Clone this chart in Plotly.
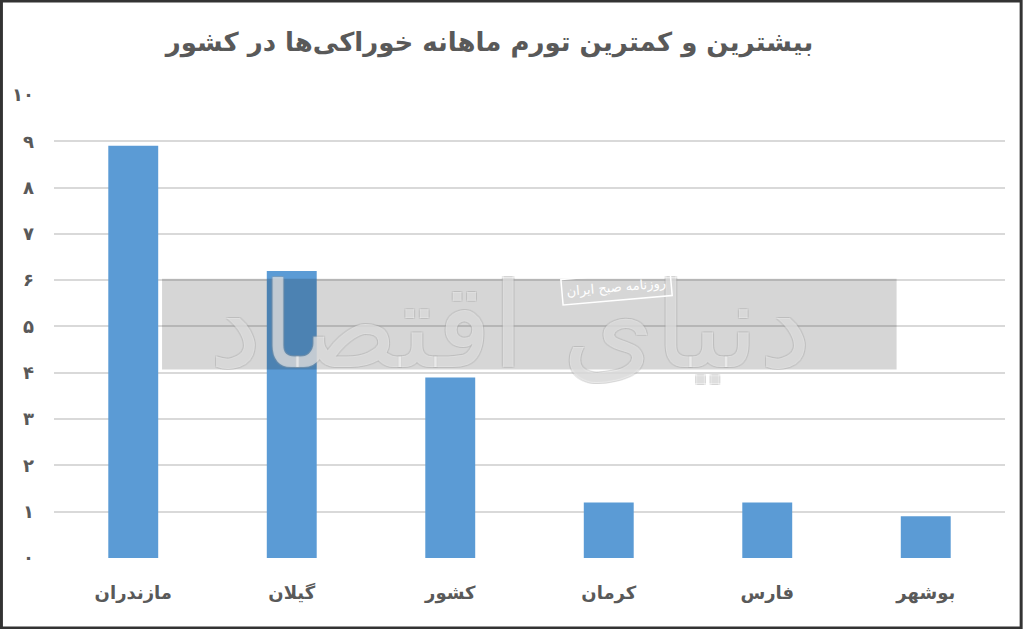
import plotly.graph_objects as go

title_text = "بیشترین و کمترین تورم ماهانه خوراکی‌ها در کشور"
categories = ["مازندران", "گیلان", "کشور", "کرمان", "فارس", "بوشهر"]
values = [8.9, 6.2, 3.9, 1.2, 1.2, 0.9]
tick_vals = [0, 1, 2, 3, 4, 5, 6, 7, 8, 9, 10]
tick_text = ["۰", "۱", "۲", "۳", "۴", "۵", "۶", "۷", "۸", "۹", "۱۰"]
watermark_main = "دنیای اقتصاد"
watermark_sub = "روزنامه صبح ایران"

FONT = "DejaVu Sans"
GRAY = "#595959"

fig = go.Figure()
fig.add_trace(go.Bar(
    x=categories, y=values,
    marker=dict(color="#5B9BD5", line=dict(width=0)),
    width=0.315,
    hoverinfo="x+y",
))

fig.update_layout(
    width=1024, height=629,
    paper_bgcolor="white", plot_bgcolor="white",
    margin=dict(l=54, r=19, t=94, b=71),
    showlegend=False,
    title=dict(
        text="<b>" + title_text + "</b>",
        x=0.478, xanchor="center", y=0.933, yanchor="middle",
        font=dict(family=FONT, size=26, color=GRAY, weight="bold"),
    ),
    xaxis=dict(
        type="category", automargin=False,
        showgrid=False, zeroline=False, showline=False,
        ticks="", tickfont=dict(family=FONT, size=18, color=GRAY, weight="bold"),
        ticklabelstandoff=22,
    ),
    yaxis=dict(
        range=[0, 10.02], automargin=False,
        tickvals=tick_vals, ticktext=tick_text,
        showgrid=True, gridcolor="#d9d9d9", gridwidth=1.5,
        zeroline=False, showline=False, ticks="",
        tickfont=dict(family=FONT, size=18, color=GRAY, weight="bold"),
        ticklabelstandoff=19,
    ),
)

# watermark band
fig.add_shape(type="rect", xref="paper", yref="y",
              x0=0.1136, x1=0.886, y0=4.07, y1=6.03,
              fillcolor="rgba(0,0,0,0.16)", line=dict(width=0), layer="above")

fig.add_annotation(
    xref="paper", yref="y", x=0.48, y=5.0,
    text=watermark_main, showarrow=False,
    font=dict(family=FONT, size=118, color="rgba(255,255,255,0.5)",
              shadow="1px 1px 0 rgba(160,160,160,0.5), -1px -1px 0 rgba(160,160,160,0.5), 1px -1px 0 rgba(160,160,160,0.5), -1px 1px 0 rgba(160,160,160,0.5)"),
)

fig.add_annotation(
    xref="paper", yref="y", x=0.592, y=5.85,
    text=watermark_sub, showarrow=False, textangle=-5,
    font=dict(family=FONT, size=13, color="white"),
    bordercolor="white", borderwidth=1.5, borderpad=4,
)

# image frame
fig.add_shape(type="rect", xref="paper", yref="paper",
              x0=-54/951 + 0.0015, x1=1 + 19/951 - 0.003, y0=-71/464 + 0.002, y1=1 + 94/464 - 0.002,
              line=dict(color="#333333", width=3), layer="above")

fig.write_html("out.html", config={"displayModeBar": False},
               post_script="document.body.style.margin='0';document.body.style.overflow='hidden';")
